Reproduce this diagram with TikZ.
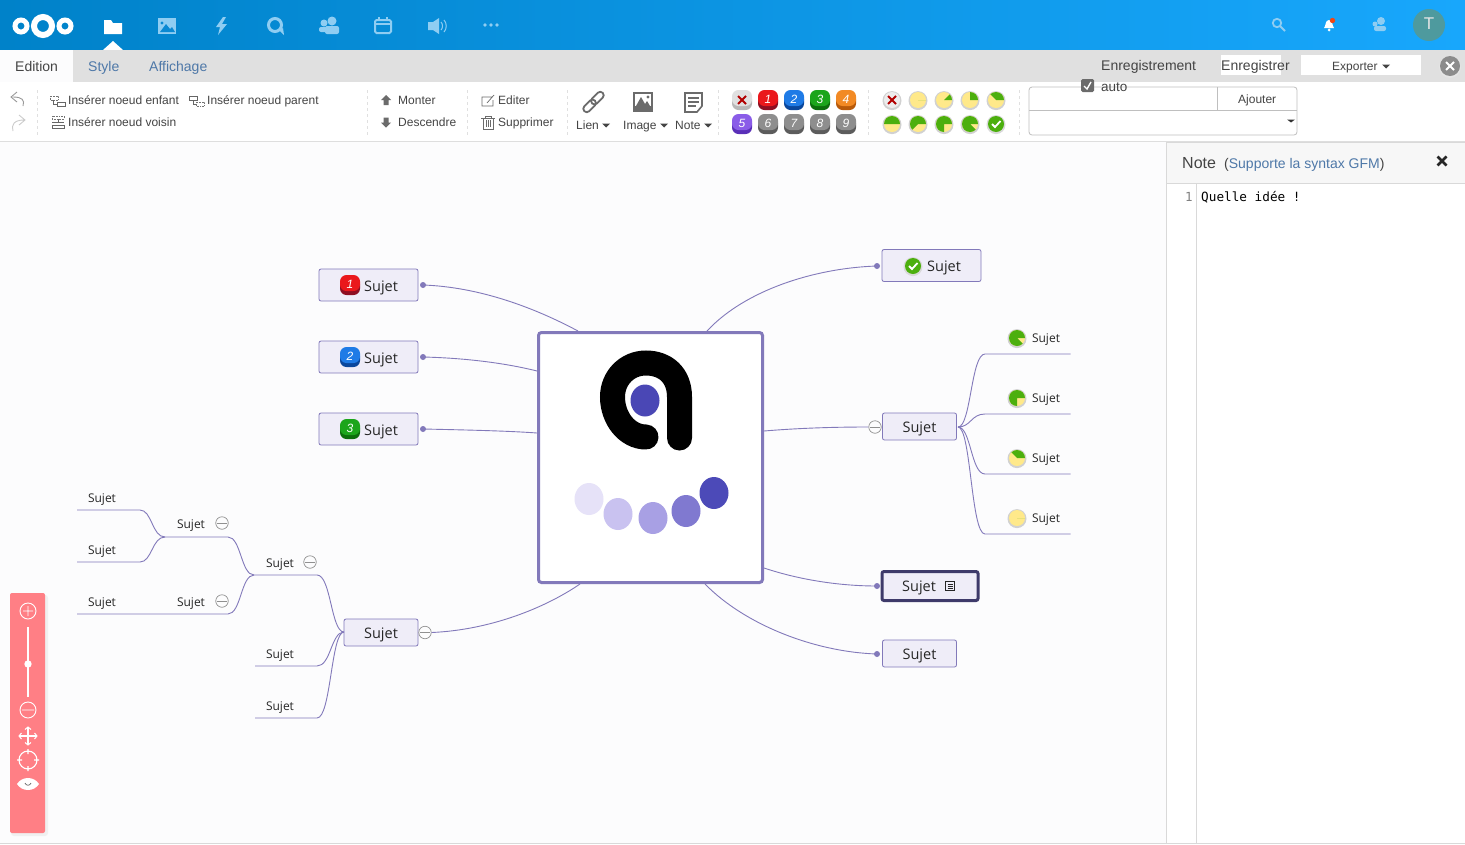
\documentclass[tikz,border=0pt]{standalone}
\usepackage{fontspec}
\setmainfont{Liberation Sans}
\setmonofont{DejaVu Sans Mono}
\newfontfamily\topicfont{Open Sans}
\usetikzlibrary{arrows}
\usetikzlibrary{calc}
\definecolor{canvasC}{HTML}{FCFCFD}
\definecolor{barC}{HTML}{E0E0E0}
\definecolor{lineC}{HTML}{8279BA}
\definecolor{boxC}{HTML}{EFEDF8}
\definecolor{darkC}{HTML}{3E3A6A}
\definecolor{tabC}{HTML}{4E78A8}
\definecolor{textC}{HTML}{444444}
\definecolor{iconC}{HTML}{6B6B6B}
\definecolor{hdrC}{HTML}{8FCDF2}
\definecolor{hdrLeft}{HTML}{0082C9}
\definecolor{hdrRight}{HTML}{18A7FC}
\definecolor{hdrImg}{HTML}{0A89D3}
\definecolor{bellC}{HTML}{F04614}
\definecolor{avatarC}{HTML}{4E9A9E}
\definecolor{logoC}{HTML}{4A47B5}
\definecolor{zoomC}{HTML}{FF7F85}
\definecolor{pieG}{HTML}{4CAF0E}
\definecolor{pieY}{HTML}{FFE98A}
\definecolor{minusC}{HTML}{909090}
\definecolor{redT}{HTML}{EA181C}
\definecolor{redB}{HTML}{8E0F22}
\definecolor{blueT}{HTML}{1F7BE6}
\definecolor{blueB}{HTML}{0A479C}
\definecolor{greenT}{HTML}{1BA51B}
\definecolor{greenB}{HTML}{0B6E0B}
\definecolor{orangeT}{HTML}{F28A24}
\definecolor{orangeB}{HTML}{B85A0A}
\definecolor{purpleT}{HTML}{8A5CE8}
\definecolor{purpleB}{HTML}{5A2FB8}
\definecolor{grayT}{HTML}{8E8E8E}
\definecolor{grayB}{HTML}{5C5C5C}
\newcommand{\fs}[1]{\fontsize{#1}{#1}\selectfont}
\tikzset{
  conn/.style={draw=lineC,line width=0.9pt},
  dotnode/.style={circle,fill=lineC,inner sep=0pt,minimum size=6pt},
  topicbox/.style={draw=lineC,fill=boxC,rounded corners=2pt,line width=0.8pt,inner sep=0pt},
  sujetbig/.style={font=\topicfont\fs{14.5},text=black!85,inner sep=0pt,text height=10.4pt,text depth=0pt},
  sujetsmall/.style={font=\topicfont\fs{12},text=black!85,inner sep=0pt,text height=8.6pt,text depth=0pt},
  minusnode/.style={circle,draw=minusC,fill=canvasC,line width=0.7pt,inner sep=0pt,minimum size=12.5pt,path picture={\draw[minusC,line width=0.7pt] ($(path picture bounding box.west)+(1pt,0)$) -- ($(path picture bounding box.east)+(-1pt,0)$);}},
  uitext/.style={font=\fs{12},text=textC,anchor=west,inner sep=0pt,text height=8.6pt,text depth=0pt},
  tabtext/.style={font=\fs{14},anchor=west,inner sep=0pt,text height=10pt,text depth=0pt},
  hdr/.style={fill=hdrC},
  sep/.style={draw=black!12,dashed,line width=0.5pt},
  zoomicon/.style={draw=white,line width=0.9pt}
}
% coloured number badge
\newcommand{\badge}[6]{
  \fill[#4,rounded corners=6.5pt] (#1-10,#2-7) rectangle (#1+10,#2+10);
  \fill[#3,rounded corners=6.5pt] (#1-10,#2-10) rectangle (#1+10,#2+6);
  \node[font=\fs{12}\itshape,text=#5,inner sep=0pt] (badge#1x#2) at (#1,#2-1) {\ifnum#6=0 \else#6\fi};
}
% progress pie
\newcommand{\pieicon}[3]{
  \fill[black!18] (#1,#2+0.6) circle (9.5pt);
  \fill[pieY] (#1,#2) circle (8pt);
  \fill[pieG] (#1,#2) -- ++(8pt,0) arc[start angle=0,end angle=#3,radius=8pt] -- cycle;
}
\newcommand{\crossicon}[2]{
  \fill[black!18] (#1,#2+0.6) circle (9.5pt);
  \fill[white!93!black] (#1,#2) circle (8pt);
  \draw[red!70!black,line width=1.8pt] (#1-4,#2-4) -- (#1+4,#2+4) (#1-4,#2+4) -- (#1+4,#2-4);
}
\newcommand{\checkicon}[2]{
  \fill[black!15] (#1,#2+0.6) circle (9.5pt);
  \fill[pieG] (#1,#2) circle (8pt);
  \draw[white,line width=1.8pt] (#1-4,#2) -- (#1-1,#2+3) -- (#1+4.5,#2-3);
}
\begin{document}
\begin{tikzpicture}[x=1pt,y=-1pt]
\useasboundingbox (0,0) rectangle (1465,844);
\fill[canvasC] (0,0) rectangle (1465,844);

% header
\shade[left color=hdrLeft,right color=hdrRight] (0,0) rectangle (1465,50);
\foreach \cx/\rr/\ww in {21/6/5,43/9/6,65/6/5}{\draw[white,line width=\ww pt] (\cx,26) circle (\rr pt);}
\fill[white] (104,20) -- (111,20) -- (113,23) -- (122,23) -- (122,34) -- (104,34) -- cycle;
\fill[white] (103,50) -- (113,41) -- (123,50) -- cycle;
\fill[hdr] (158,18) rectangle (176,34);
\fill[hdrImg] (160,32) -- (166,24) -- (170,29) -- (172,27) -- (175,32) -- cycle (162,23) circle (1.7pt);
\fill[hdr] (223,17) -- (216,27) -- (220,27) -- (218,35) -- (227,24) -- (222,24) -- (226,17) -- cycle;
\draw[hdrC,line width=3pt] (275,25) circle (6.5pt);
\fill[hdr] (279,30) -- (284,35) -- (283,28) -- cycle;
\fill[hdr] (332,21) circle (4.5pt) (324,23) circle (3.5pt);
\fill[hdr,rounded corners=2pt] (325,34) rectangle (339,26) (319,32) rectangle (329,27);
\draw[hdrC,line width=2pt,rounded corners=1.5pt] (375,20) rectangle (391,33);
\draw[hdrC,line width=2pt] (375,24) -- (391,24) (379,17) -- (379,21) (387,17) -- (387,21);
\fill[hdr] (428,22) -- (433,22) -- (439,18) -- (439,34) -- (433,30) -- (428,30) -- cycle;
\draw[hdrC,line width=1pt] (441,22) .. controls (443,24) and (443,28) .. (441,30) (444,20) .. controls (447,23) and (447,29) .. (444,32);
\foreach \cx in {485,491,497}{\fill[hdr] (\cx,25) circle (1.8pt);}
\draw[hdrC,line width=1.8pt] (1277,23) circle (4.2pt) (1280,26) -- (1285,31);
\fill[white] (1329,20) .. controls (1325,20) and (1326,26) .. (1324,28) -- (1334,28) .. controls (1332,26) and (1333,20) .. (1329,20) -- cycle (1329,30) circle (1.5pt);
\fill[bellC] (1332.5,20.5) circle (2.7pt);
\fill[hdr] (1381,21) circle (4pt) (1375,24) circle (2.5pt);
\fill[hdr,rounded corners=2pt] (1374,31) rectangle (1386,26);
\fill[avatarC] (1429,25) circle (16pt);
\node[font=\fs{17},text=white!90!black,inner sep=0pt] (avatarT) at (1429,24) {T};

% tab bar
\fill[barC] (0,50) rectangle (1465,82);
\fill[canvasC] (0,50) rectangle (73,82);
\node[tabtext,text=textC] (tabEdition) at (15,66) {Edition};
\node[tabtext,text=tabC] (tabStyle) at (88,66) {Style};
\node[tabtext,text=tabC] (tabAffichage) at (149,66) {Affichage};
\node[tabtext,text=textC] (saveLabel) at (1101,65) {Enregistrement};
\fill[white] (1221,55) rectangle (1281,75);
\node[tabtext,text=textC] (saveButton) at (1221,65) {Enregistrer};
\fill[white] (1301,55) rectangle (1421,75);
\node[uitext] (exportButton) at (1332,66) {Exporter};
\fill[textC] (1382,64.5) -- (1390,64.5) -- (1386,68.5) -- cycle;
\fill[black!10] (1450,67) circle (11pt);
\fill[black!45] (1450,66) circle (10pt);
\draw[white,line width=2pt] (1446,62) -- (1454,70) (1446,70) -- (1454,62);

% toolbar
\fill[white] (0,82) rectangle (1465,141);
\draw[black!13,line width=1pt] (0,141.5) -- (1465,141.5);
\foreach \sx in {37,367,467,567,718,868,1019}{\draw[sep] (\sx,90) -- (\sx,135);}
\draw[black!40,line width=0.9pt] (23,106) .. controls (25,100) and (22,97) .. (13,97) (17,92) -- (11,97) -- (17,102);
\draw[black!20,line width=0.9pt] (13,131) .. controls (11,125) and (14,120) .. (24,120) (19,115) -- (25,120) -- (19,125);
\node[uitext] (insEnfant) at (68,100) {Insérer noeud enfant};
\node[uitext] (insParent) at (207,100) {Insérer noeud parent};
\node[uitext] (insVoisin) at (68,122) {Insérer noeud voisin};
\draw[black!55,densely dotted,line width=0.6pt] (50,96) rectangle (58,100);
\draw[black!60,line width=0.6pt] (57,102) rectangle (65,106) (53,100) -- (53,104) -- (57,104);
\draw[black!60,line width=0.6pt] (189,96) rectangle (197,100) (193,100) -- (193,104) -- (196,104);
\draw[black!55,densely dotted,line width=0.6pt] (196,102) rectangle (204,106);
\draw[black!55,densely dotted,line width=0.6pt] (52,116) rectangle (64,119);
\draw[black!60,line width=0.6pt] (58,119) -- (58,123) (52,125) rectangle (64,128) (52,122) -- (64,122);
\fill[iconC] (386,95) -- (391,100) -- (388.5,100) -- (388.5,105) -- (383.5,105) -- (383.5,100) -- (381,100) -- cycle;
\fill[iconC] (386,127.5) -- (391,122.5) -- (388.5,122.5) -- (388.5,117.5) -- (383.5,117.5) -- (383.5,122.5) -- (381,122.5) -- cycle;
\node[uitext] (moveUp) at (398,100) {Monter};
\node[uitext] (moveDown) at (398,122) {Descendre};
\node[uitext] (editItem) at (498,100) {Editer};
\node[uitext] (deleteItem) at (498,122) {Supprimer};
\draw[iconC,line width=0.7pt] (492,97) -- (482,97) -- (482,106) -- (493,106) -- (493,100) (487,103) -- (494,95);
\draw[iconC,line width=0.8pt] (481,118) -- (495,118) (485,118) -- (485,116) -- (491,116) -- (491,118) (483,118) -- (483,129) -- (493,129) -- (493,118) (486,120) -- (486,127) (488,120) -- (488,127) (490,120) -- (490,127);
\node[uitext] (linkItem) at (576,125) {Lien};
\node[uitext] (imageItem) at (623,125) {Image};
\node[uitext] (noteItem) at (675,125) {Note};
\foreach \cx in {606,664,708}{\fill[textC] (\cx-4,123.5) -- (\cx+4,123.5) -- (\cx,127.5) -- cycle;}
\draw[iconC,line width=1.8pt,rounded corners=3.5pt,rotate around={45:(593.5,102)}] (580.5,98.5) rectangle (595.5,105.5);
\draw[iconC,line width=1.8pt,rounded corners=3.5pt,rotate around={45:(593.5,102)}] (591.5,98.5) rectangle (606.5,105.5);
\fill[iconC] (633,92) rectangle (653,112);
\fill[white] (635,94) rectangle (651,106);
\fill[iconC] (636,106) -- (641,97) -- (645,104) -- (647,101) -- (650,106) -- cycle (648,97) circle (1.7pt);
\draw[iconC,line width=1.6pt] (685,93) -- (702,93) -- (702,106) -- (697,112) -- (685,112) -- cycle;
\draw[iconC,line width=1.3pt] (688,98) -- (699,98) (688,102) -- (699,102) (688,106) -- (696,106);
\badge{742}{100}{white!88!black}{black!28}{red!70!black}{0}
\draw[red!70!black,line width=1.8pt] (738,96) -- (746,104) (738,104) -- (746,96);
\badge{768}{100}{redT}{redB}{white}{1}
\badge{794}{100}{blueT}{blueB}{white}{2}
\badge{820}{100}{greenT}{greenB}{white}{3}
\badge{846}{100}{orangeT}{orangeB}{white}{4}
\badge{742}{124}{purpleT}{purpleB}{white}{5}
\foreach \cx/\nn in {768/6,794/7,820/8,846/9}{\badge{\cx}{124}{grayT}{grayB}{white}{\nn}}
\crossicon{892}{100}
\pieicon{918}{100}{0}
\pieicon{944}{100}{45}
\pieicon{970}{100}{90}
\pieicon{996}{100}{135}
\pieicon{892}{124}{180}
\pieicon{918}{124}{225}
\pieicon{944}{124}{270}
\pieicon{970}{124}{315}
\checkicon{996}{124}
\draw[black!25,line width=0.8pt,rounded corners=3pt] (1029,87) rectangle (1297,135);
\draw[black!25,line width=0.8pt] (1029,110) -- (1297,110) (1217,87) -- (1217,110);
\node[uitext] (addButton) at (1238,99) {Ajouter};
\fill[black!80] (1287,119.5) -- (1295,119.5) -- (1291,122.5) -- cycle;
\node[tabtext,text=textC,font=\fs{13.5}] (autoLabel) at (1101,86) {auto};
\fill[iconC,rounded corners=1.5pt] (1081,79) rectangle (1094,92);
\draw[white,line width=1.4pt] (1084,86) -- (1087,89) -- (1091,82);

% note panel
\fill[white] (1167,142) rectangle (1465,844);
\fill[black!3] (1167,142) rectangle (1465,183);
\draw[black!15,line width=0.8pt] (1166.5,142) -- (1166.5,844) (1167,183.5) -- (1465,183.5) (1196.5,184) -- (1196.5,844) (1167,142.5) -- (1465,142.5) (0,843.5) -- (1465,843.5);
\node[font=\fs{16},text=textC,anchor=west,inner sep=0pt,text height=11.5pt,text depth=0pt] (noteTitle) at (1182,163) {Note};
\node[font=\fs{14},text=tabC,anchor=west,inner sep=0pt,text height=10pt,text depth=0pt] (noteHint) at (1224,163) {{\color{textC}(}Supporte la syntax GFM{\color{textC})}};
\draw[black!85,line width=2.6pt] (1437.5,156.5) -- (1446.5,165.5) (1437.5,165.5) -- (1446.5,156.5);
\node[font=\ttfamily\fs{12.5},text=black!50,inner sep=0pt] (lineNo) at (1189,197) {1};
\node[font=\ttfamily\fs{12.7},text=black,anchor=west,inner sep=0pt] (noteBody) at (1201,197) {Quelle idée !};

% root
\node[draw=lineC,fill=white,line width=3pt,rounded corners=3pt,minimum width=224pt,minimum height=250pt,inner sep=0pt] (root) at (650.5,457.5) {};
\draw[black,line width=25pt,line cap=round] (679.5,438) -- (679.5,397) .. controls (679.5,375) and (665,363) .. (646,363) .. controls (627,363) and (612.5,378) .. (612.5,397) .. controls (612.5,418) and (627,437) .. (646,437);
\fill[logoC] (645,400.5) ellipse (14.5pt and 16pt);
\foreach \cx/\cy/\cc in {589/499/E6E2F8,618/514/C9C2F0,653/518/A8A0E4,686/511/8079D0,714/493/4C4AB8}{
  \definecolor{dotC}{HTML}{\cc}
  \fill[dotC] (\cx,\cy) ellipse (14.5pt and 16pt);
}
\coordinate (rootA) at (578,331);
\coordinate (rootB) at (537,371);
\coordinate (rootC) at (537,433);
\coordinate (rootD) at (707,331);
\coordinate (rootE) at (764,431);
\coordinate (rootF) at (764,568);
\coordinate (rootG) at (705,584);
\coordinate (rootH) at (580,584);

% left topics
\node[topicbox,minimum width=99pt,minimum height=32pt] (topicOne) at (368.5,285) {};
\node[topicbox,minimum width=99pt,minimum height=32pt] (topicTwo) at (368.5,357) {};
\node[topicbox,minimum width=99pt,minimum height=32pt] (topicThree) at (368.5,429) {};
\foreach \by/\nn/\ca/\cb in {285/1/redT/redB,357/2/blueT/blueB,429/3/greenT/greenB}{
  \badge{350}{\by}{\ca}{\cb}{white}{\nn}
}
\node[sujetbig,anchor=west] (labelOne) at (364,286) {Sujet};
\node[sujetbig,anchor=west] (labelTwo) at (364,358) {Sujet};
\node[sujetbig,anchor=west] (labelThree) at (364,430) {Sujet};
\node[dotnode] (dotOne) at (423,285) {};
\node[dotnode] (dotTwo) at (423,357) {};
\node[dotnode] (dotThree) at (423,429) {};
\draw[conn] (dotOne.center) .. controls (480,287) and (535,308) .. (rootA);
\draw[conn] (dotTwo.center) .. controls (465,358) and (505,363) .. (rootB);
\draw[conn] (dotThree.center) .. controls (470,430) and (510,431) .. (rootC);

% right topics
\node[topicbox,minimum width=99pt,minimum height=32pt] (topicCheck) at (931.5,265.5) {};
\checkicon{913}{266}
\node[sujetbig,anchor=west] (labelCheck) at (927,266) {Sujet};
\node[dotnode] (dotCheck) at (877,266) {};
\draw[conn] (rootD) .. controls (745,290) and (815,268) .. (dotCheck.center);
\node[topicbox,minimum width=74pt,minimum height=27pt] (topicPies) at (919.5,426.5) {};
\node[sujetbig] (labelPies) at (919.5,427) {Sujet};
\node[minusnode] (minusPies) at (875,427) {};
\draw[conn] (rootE) .. controls (800,428) and (835,427) .. (minusPies.west);
\node[topicbox,minimum width=96pt,minimum height=29pt,draw=darkC,line width=3pt] (topicNote) at (930,586) {};
\node[sujetbig,anchor=west] (labelNote) at (902,586) {Sujet};
\draw[black!85,line width=0.8pt] (945.5,581.5) rectangle (954.5,590.5) (947.5,584) -- (952.5,584) (947.5,586) -- (952.5,586) (947.5,588) -- (952.5,588);
\node[dotnode] (dotNote) at (877,586) {};
\draw[conn] (rootF) .. controls (800,580) and (840,586) .. (dotNote.center);
\node[topicbox,minimum width=74pt,minimum height=27pt] (topicLast) at (919.5,653.5) {};
\node[sujetbig] (labelLast) at (919.5,654) {Sujet};
\node[dotnode] (dotLast) at (877,654) {};
\draw[conn] (rootG) .. controls (745,625) and (815,652) .. (dotLast.center);

% right leaves
\coordinate (forkR) at (958,427);
\foreach \nm/\ly/\pa in {A/354/315,B/414/270,C/474/135,D/534/0}{
  \pgfmathsetmacro{\ty}{\ly-16}
  \pieicon{1017}{\ty}{\pa}
  \node[sujetsmall] (leaf\nm) at (1046,\ty) {Sujet};
  \coordinate (leafEnd\nm) at (1070.5,\ly);
  \coordinate (leafStart\nm) at (985,\ly);
  \draw[conn] (forkR) .. controls (971,427) and (971,\ly) .. (leafStart\nm) -- (leafEnd\nm);
}

% left branch
\node[topicbox,minimum width=74pt,minimum height=27pt] (topicBranch) at (381,632.5) {};
\node[sujetbig] (labelBranch) at (381,633) {Sujet};
\node[minusnode] (minusBranch) at (425,632.5) {};
\draw[conn] (minusBranch.east) .. controls (490,630) and (545,608) .. (rootH);
\coordinate (forkA) at (344,632);
\coordinate (forkB) at (254,575);
\coordinate (forkC) at (165,537);
\foreach \nm/\lx/\ly in {One/280/563,Two/280/654,Three/280/706,Four/191/524,Five/191/602,Six/102/498,Seven/102/550,Eight/102/602}{
  \node[sujetsmall] (sub\nm) at (\lx,\ly) {Sujet};
}
\node[minusnode] (minusOne) at (310,562) {};
\node[minusnode] (minusTwo) at (222,523) {};
\node[minusnode] (minusThree) at (222,601) {};
\draw[conn] (forkA) .. controls (331,632) and (331,575) .. (317,575) -- (forkB);
\coordinate (endTwo) at (255,666);
\coordinate (endThree) at (255,718);
\draw[conn] (forkA) .. controls (331,632) and (331,666) .. (317,666) -- (endTwo);
\draw[conn] (forkA) .. controls (331,632) and (331,718) .. (317,718) -- (endThree);
\coordinate (endFive) at (77,614);
\coordinate (endSix) at (77,510);
\coordinate (endSeven) at (77,562);
\draw[conn] (forkB) .. controls (241,575) and (241,537) .. (228,537) -- (forkC);
\draw[conn] (forkB) .. controls (241,575) and (241,614) .. (228,614) -- (endFive);
\draw[conn] (forkC) .. controls (152,537) and (152,510) .. (140,510) -- (endSix);
\draw[conn] (forkC) .. controls (152,537) and (152,562) .. (140,562) -- (endSeven);

% zoom bar
\fill[black!6,rounded corners=3pt] (11,595) rectangle (48,836);
\fill[zoomC,rounded corners=2pt] (10,593) rectangle (45,833);
\draw[zoomicon] (28,611) circle (8pt) (23,611) -- (33,611) (28,606) -- (28,616);
\draw[white,line width=1.3pt] (28,627) -- (28,697);
\fill[white] (28,664) circle (3.7pt);
\draw[zoomicon] (28,710) circle (8pt) (22,710) -- (34,710);
\draw[white,line width=1.2pt] (19,736) -- (37,736) (28,727) -- (28,745);
\draw[white,line width=1pt] (25,729.5) -- (28,727) -- (31,729.5) (25,742.5) -- (28,745) -- (31,742.5) (21.5,733) -- (19,736) -- (21.5,739) (34.5,733) -- (37,736) -- (34.5,739);
\draw[white,line width=1.1pt] (28,760) circle (9pt) (28,749) -- (28,754) (28,766) -- (28,771) (17,760) -- (22,760) (34,760) -- (39,760);
\fill[white] (17,784) .. controls (22,776) and (34,776) .. (39,784) .. controls (34,792) and (22,792) .. (17,784) -- cycle;
\draw[iconC,line width=0.7pt] (25,783) .. controls (26,786) and (30,786) .. (31,783);
\end{tikzpicture}
\end{document}
